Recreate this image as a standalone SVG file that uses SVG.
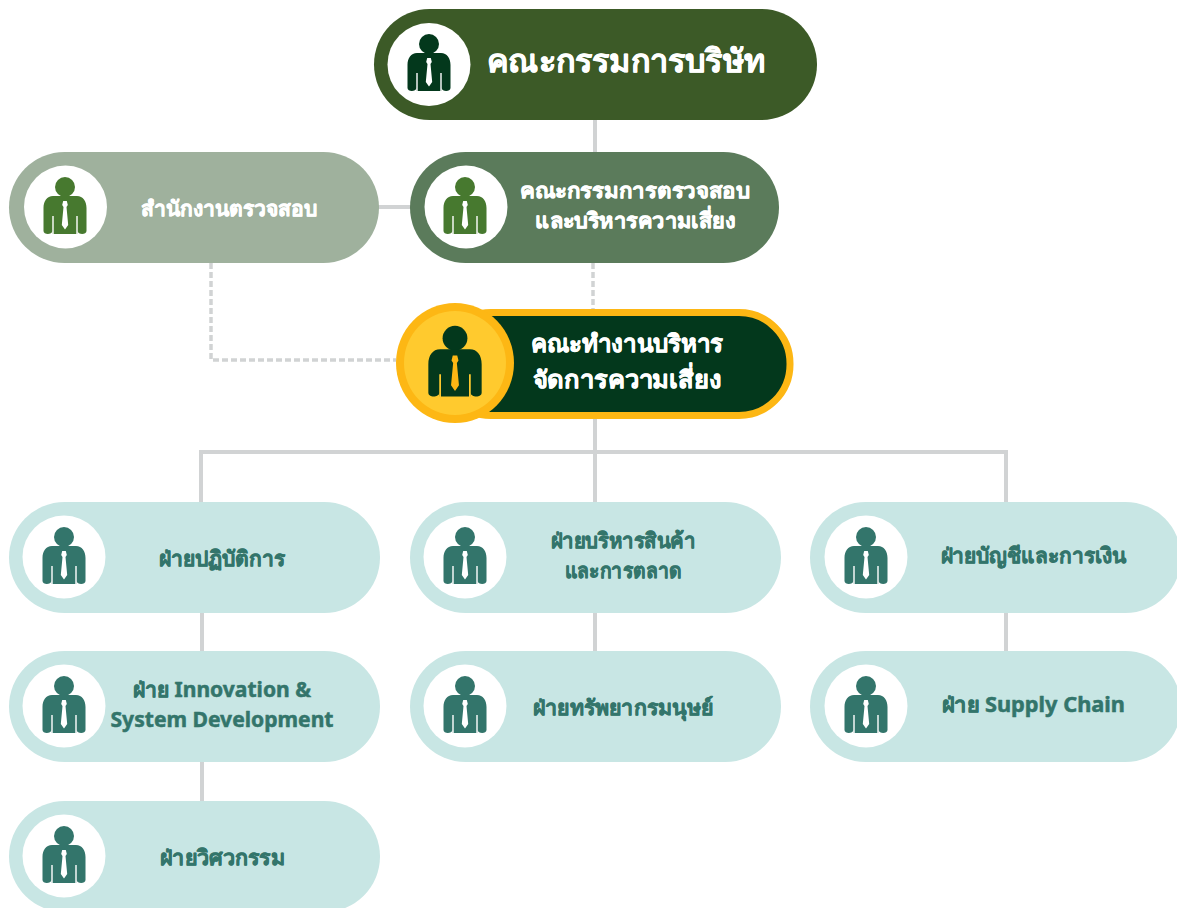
<svg xmlns="http://www.w3.org/2000/svg" width="1177" height="908" viewBox="0 0 1177 908">
<style>
text{font-family:"Noto Sans","Liberation Sans","DejaVu Sans",sans-serif;font-weight:700;text-anchor:middle;stroke-linejoin:round;stroke-width:.5px}
.w{fill:#fff;stroke:#fff}.t{fill:#33756b;stroke:#33756b}
.s{font-size:21px}.m{font-size:24px}.l{font-size:32px}
.c{fill:none;stroke:#d1d3d4;stroke-width:4}
.d{stroke-dasharray:6 3;stroke-width:3.5}
.disc{fill:#fff}
.light{fill:#c8e6e4}
.tie{fill:var(--t,#fff)}
.gap{fill:none;stroke:var(--g,#fff);stroke-width:1.400}
</style>
<defs>
<g id="person">
<circle cx="0" cy="-20" r="10"/>
<path d="M-12-11H12C18-11 21.500-6 21.500 1V24C21.500 28 13 28 12.500 24V27H-12.500V24C-13 28-21.500 28-21.500 24V1C-21.500-6-18-11-12-11Z"/>
<path class="gap" d="M-12 9V28M12 9V28"/>
<path class="tie" d="M-1.800-6H1.800L2.800-2 1.500 0 3.200 18 0 22.500-3.200 18-1.500 0-2.800-2Z"/>
</g>
</defs>
<g id="connectors">
<path class="c" d="M595 118V154M377 207H412M595 417V502M201 502V452H1006V502M202 611V653M202 760V803M595 611V653M1006 611V653"/>
<path class="c d" d="M593 263V309M211 263V360H396"/>
</g>
<g id="board"><rect x="374" y="9" width="443" height="111" rx="55.500" fill="#3c5a27"/><circle cx="429" cy="64.500" r="41.500" class="disc"/><use href="#person" x="429" y="64" fill="#03381c"/><text x="626" y="72" class="l w" textLength="278" lengthAdjust="spacingAndGlyphs">คณะกรรมการบริษัท</text></g>
<g id="audit-office"><rect x="9" y="152" width="370" height="111" rx="55.500" fill="#9fb19d"/><circle cx="65.500" cy="207" r="41.500" class="disc"/><use href="#person" x="65" y="207" fill="#47792f"/><text x="229" y="216" class="s w" textLength="176" lengthAdjust="spacingAndGlyphs">สำนักงานตรวจสอบ</text></g>
<g id="audit-committee"><rect x="410" y="152" width="369" height="111" rx="55.500" fill="#5b7b5b"/><circle cx="466" cy="207" r="41.500" class="disc"/><use href="#person" x="465" y="207" fill="#47792f"/><text x="635" y="198" class="s w" textLength="230" lengthAdjust="spacingAndGlyphs">คณะกรรมการตรวจสอบ</text><text x="635" y="228" class="s w" textLength="200" lengthAdjust="spacingAndGlyphs">และบริหารความเสี่ยง</text></g>
<g id="risk-team" style="--t:#fdb714;--g:#ffca2e"><rect x="440" y="312.500" width="350" height="103" rx="51" fill="#03381c" stroke="#fdb714" stroke-width="7"/><ellipse cx="455" cy="363" rx="59" ry="60" fill="#fdb714"/><ellipse cx="455" cy="363" rx="51" ry="52" fill="#ffca2e"/><use href="#person" transform="translate(455 363) scale(1.240)" fill="#03381c"/><text x="627" y="352" class="m w" textLength="192" lengthAdjust="spacingAndGlyphs">คณะทำงานบริหาร</text><text x="627" y="388" class="m w" textLength="189" lengthAdjust="spacingAndGlyphs">จัดการความเสี่ยง</text></g>
<g id="dept-operations"><rect x="9" y="502" width="371" height="111" rx="55.500" class="light"/><circle cx="64" cy="557" r="41.500" class="disc"/><use href="#person" x="64" y="557" fill="#33756b"/><text x="222" y="566" class="s t" textLength="126" lengthAdjust="spacingAndGlyphs">ฝ่ายปฏิบัติการ</text></g>
<g id="dept-marketing"><rect x="410" y="502" width="371" height="111" rx="55.500" class="light"/><circle cx="465" cy="557" r="41.500" class="disc"/><use href="#person" x="465" y="557" fill="#33756b"/><text x="623" y="548" class="s t" textLength="145" lengthAdjust="spacingAndGlyphs">ฝ่ายบริหารสินค้า</text><text x="623" y="578" class="s t" textLength="117" lengthAdjust="spacingAndGlyphs">และการตลาด</text></g>
<g id="dept-finance"><rect x="810" y="502" width="371" height="111" rx="55.500" class="light"/><circle cx="866" cy="557" r="41.500" class="disc"/><use href="#person" x="866" y="557" fill="#33756b"/><text x="1033" y="563" class="s t" textLength="185" lengthAdjust="spacingAndGlyphs">ฝ่ายบัญชีและการเงิน</text></g>
<g id="dept-innovation"><rect x="9" y="651" width="371" height="111" rx="55.500" class="light"/><circle cx="64" cy="706" r="41.500" class="disc"/><use href="#person" x="64" y="706" fill="#33756b"/><text x="222" y="697" class="s t" textLength="178" lengthAdjust="spacingAndGlyphs">ฝ่าย Innovation &amp;</text><text x="222" y="727" class="s t" textLength="223" lengthAdjust="spacingAndGlyphs">System Development</text></g>
<g id="dept-hr"><rect x="410" y="651" width="371" height="111" rx="55.500" class="light"/><circle cx="465" cy="706" r="41.500" class="disc"/><use href="#person" x="465" y="706" fill="#33756b"/><text x="623" y="715" class="s t" textLength="180" lengthAdjust="spacingAndGlyphs">ฝ่ายทรัพยากรมนุษย์</text></g>
<g id="dept-supply"><rect x="810" y="651" width="371" height="111" rx="55.500" class="light"/><circle cx="866" cy="706" r="41.500" class="disc"/><use href="#person" x="866" y="706" fill="#33756b"/><text x="1033.500" y="712" class="s t" textLength="183" lengthAdjust="spacingAndGlyphs">ฝ่าย Supply Chain</text></g>
<g id="dept-engineering"><rect x="9" y="801" width="371" height="111" rx="55.500" class="light"/><circle cx="64" cy="856" r="41.500" class="disc"/><use href="#person" x="64" y="856" fill="#33756b"/><text x="222.500" y="865" class="s t" textLength="125" lengthAdjust="spacingAndGlyphs">ฝ่ายวิศวกรรม</text></g>
</svg>
